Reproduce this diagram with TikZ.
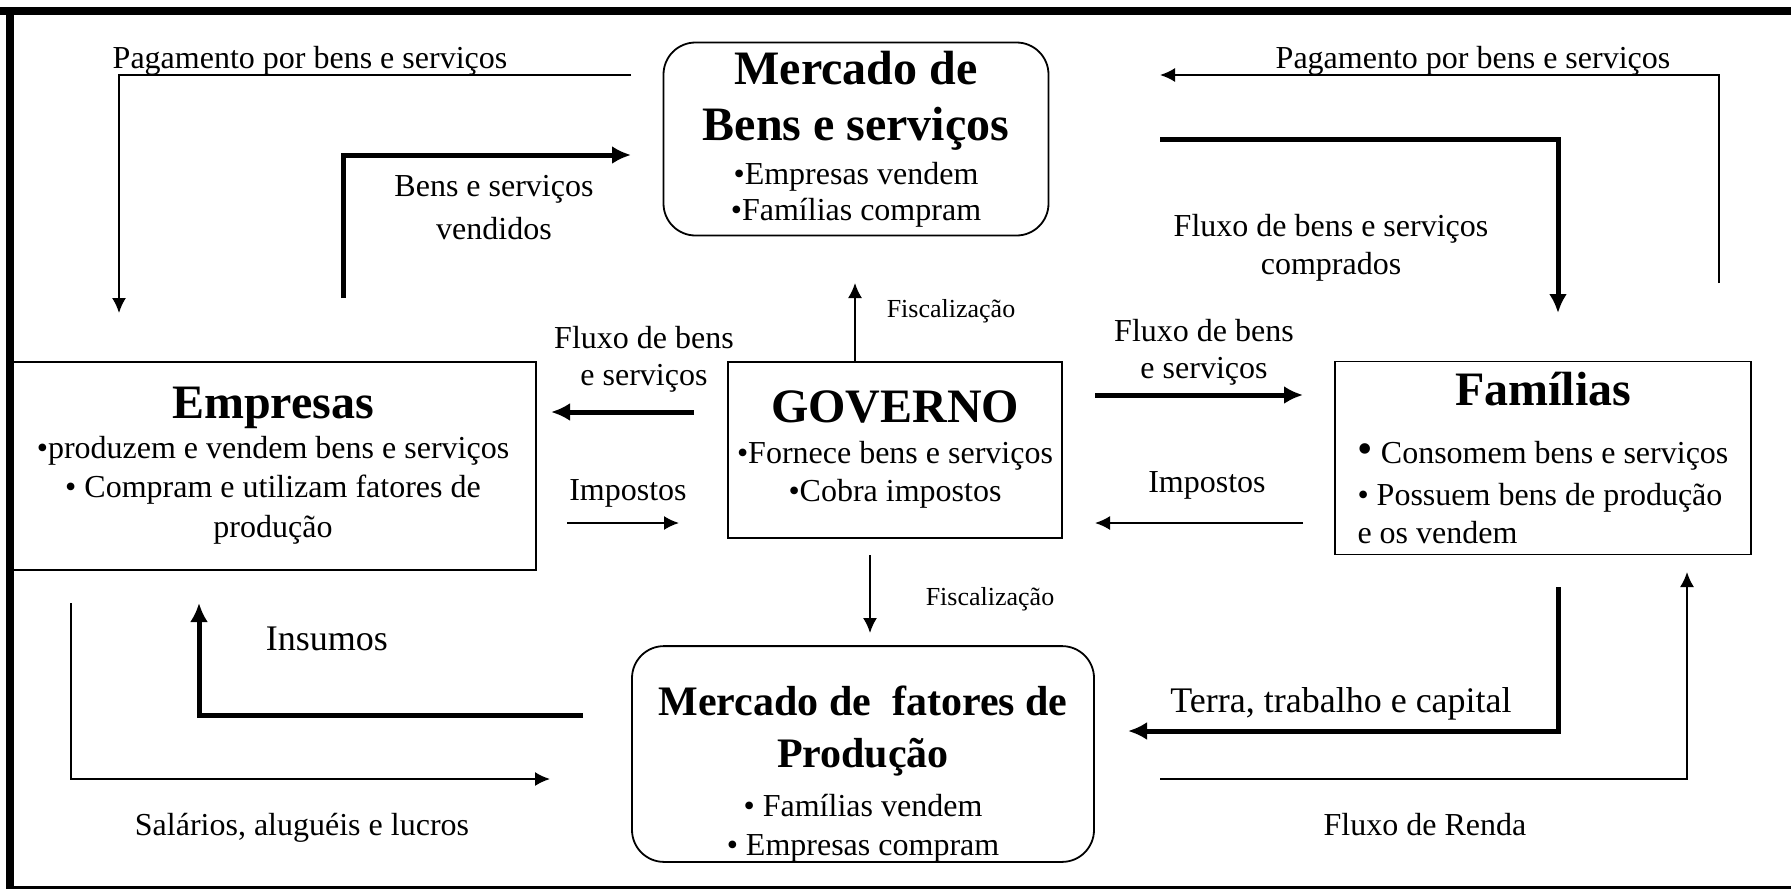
\documentclass[tikz,border=0pt]{standalone}
\usepackage{fontspec}
\setmainfont{Liberation Serif}
\usetikzlibrary{arrows.meta}
\usetikzlibrary{positioning}

\newcommand{\ttl}[1]{{\fontsize{48}{48}\selectfont\bfseries #1}}
\newcommand{\ttlsm}[1]{{\fontsize{42}{42}\selectfont\bfseries #1}}
\newcommand{\bigbullet}{{\fontsize{44}{44}\selectfont •}}

\begin{document}
\begin{tikzpicture}
    [
    x=1pt,y=-1pt,
    box/.style={draw,line width=1.8pt,inner sep=0pt,align=center,font=\fontsize{32}{36}\selectfont},
    market/.style={box,rounded corners=32pt},
    lbl/.style={inner sep=0pt,font=\fontsize{32}{36}\selectfont},
    biglbl/.style={inner sep=0pt,font=\fontsize{36}{40}\selectfont},
    smalllbl/.style={inner sep=0pt,font=\fontsize{26}{30}\selectfont},
    lightarrow/.style={line width=1.8pt,-{Latex[length=15pt,width=14pt]}},
    heavyarrow/.style={line width=5pt,-{Latex[length=19pt,width=18pt]}},
    ]
    \useasboundingbox (0,0) rectangle (1791,889);
    \draw [line width=8pt] (0,11) -- (1791,11);
    \draw [line width=8pt] (10,7) -- (10,889);
    \draw [line width=3pt] (10,887) -- (1791,887);

    \node (mbens) at (856,139) [market,minimum width=385pt,minimum height=193pt]
      {\ttl{Mercado de}\\[20pt] \ttl{Bens e serviços}\\[8pt] •Empresas vendem\\ •Famílias compram};
    \node (emp) at (273,466) [box,minimum width=526pt,minimum height=208pt]
      {\ttl{Empresas}\\[4pt] •produzem e vendem bens e serviços\\[3pt] • Compram e utilizam fatores de\\[4pt] produção};
    \node (gov) at (895,450) [box,minimum width=334pt,minimum height=176pt]
      {\ttl{GOVERNO}\\[5pt] •Fornece bens e serviços\\[2pt] •Cobra impostos};
    \node (fam) at (1543,458) [box,align=left,minimum width=416pt,minimum height=193pt]
      {\makebox[371pt]{\ttl{Famílias}}\\[22pt] \bigbullet{} Consomem bens e serviços\\[6pt] • Possuem bens de produção\\[2pt] e os vendem};
    \node (mfat) at (863,754) [market,minimum width=462pt,minimum height=208pt]
      {\rule{0pt}{69pt}\ttlsm{Mercado de\ \ fatores de}\\[16pt] \ttlsm{Produção}\\[13pt] • Famílias vendem\\[3pt] • Empresas compram};

    \node (tpage) at (310,68) [lbl,anchor=base] {Pagamento por bens e serviços};
    \node (tpagd) at (1473,68) [lbl,anchor=base] {Pagamento por bens e serviços};
    \node (tvend) at (494,208) [lbl,align=center] {Bens e serviços\\[7pt] vendidos};
    \node (tcomp) at (1331,248) [lbl,align=center] {Fluxo de bens e serviços\\[2pt] comprados};
    \node (tfise) at (951,317) [smalllbl,anchor=base] {Fiscalização};
    \node (tfluxe) at (644,359) [lbl,align=center] {Fluxo de bens\\[1pt] e serviços};
    \node (tfluxd) at (1204,352) [lbl,align=center] {Fluxo de bens\\[1pt] e serviços};
    \node (timpe) at (628,500) [lbl,anchor=base] {Impostos};
    \node (timpd) at (1207,492) [lbl,anchor=base] {Impostos};
    \node (tfisb) at (990,605) [smalllbl,anchor=base] {Fiscalização};
    \node (tins) at (327,650) [biglbl,anchor=base] {Insumos};
    \node (tterra) at (1341,712) [biglbl,anchor=base] {Terra, trabalho e capital};
    \node (tsal) at (302,835) [lbl,anchor=base] {Salários, aluguéis e lucros};
    \node (trenda) at (1425,835) [lbl,anchor=base] {Fluxo de Renda};

    \coordinate (a1) at (631,75);
    \coordinate (a2) at (119,313);
    \coordinate (b1) at (343,298);
    \coordinate (b2) at (631,155);
    \coordinate (c1) at (1719,283);
    \coordinate (c2) at (1160,75);
    \coordinate (d1) at (1160,139);
    \coordinate (d2) at (1558,313);
    \coordinate (e1) at (855,283);
    \coordinate (g1) at (694,412);
    \coordinate (g2) at (551,412);
    \coordinate (h1) at (567,523);
    \coordinate (h2) at (679,523);
    \coordinate (i1) at (1095,395);
    \coordinate (i2) at (1303,395);
    \coordinate (j1) at (1303,523);
    \coordinate (j2) at (1095,523);
    \coordinate (k1) at (870,555);
    \coordinate (k2) at (870,633);
    \coordinate (l1) at (583,715);
    \coordinate (l2) at (199,603);
    \coordinate (m1) at (71,603);
    \coordinate (m2) at (550,779);
    \coordinate (n1) at (1558,587);
    \coordinate (n2) at (1128,731);
    \coordinate (o1) at (1160,779);
    \coordinate (o2) at (1687,572);

    \draw [lightarrow] (a1) -| (a2);
    \draw [heavyarrow] (b1) |- (b2);
    \draw [lightarrow] (c1) |- (c2);
    \draw [heavyarrow] (d1) -| (d2);
    \draw [lightarrow] (gov.north -| e1) to (e1);
    \draw [heavyarrow] (g1) to (g2);
    \draw [lightarrow] (h1) to (h2);
    \draw [heavyarrow] (i1) to (i2);
    \draw [lightarrow] (j1) to (j2);
    \draw [lightarrow] (k1) to (k2);
    \draw [heavyarrow] (l1) -| (l2);
    \draw [lightarrow] (m1) |- (m2);
    \draw [heavyarrow] (n1) |- (n2);
    \draw [lightarrow] (o1) -| (o2);
\end{tikzpicture}
\end{document}
